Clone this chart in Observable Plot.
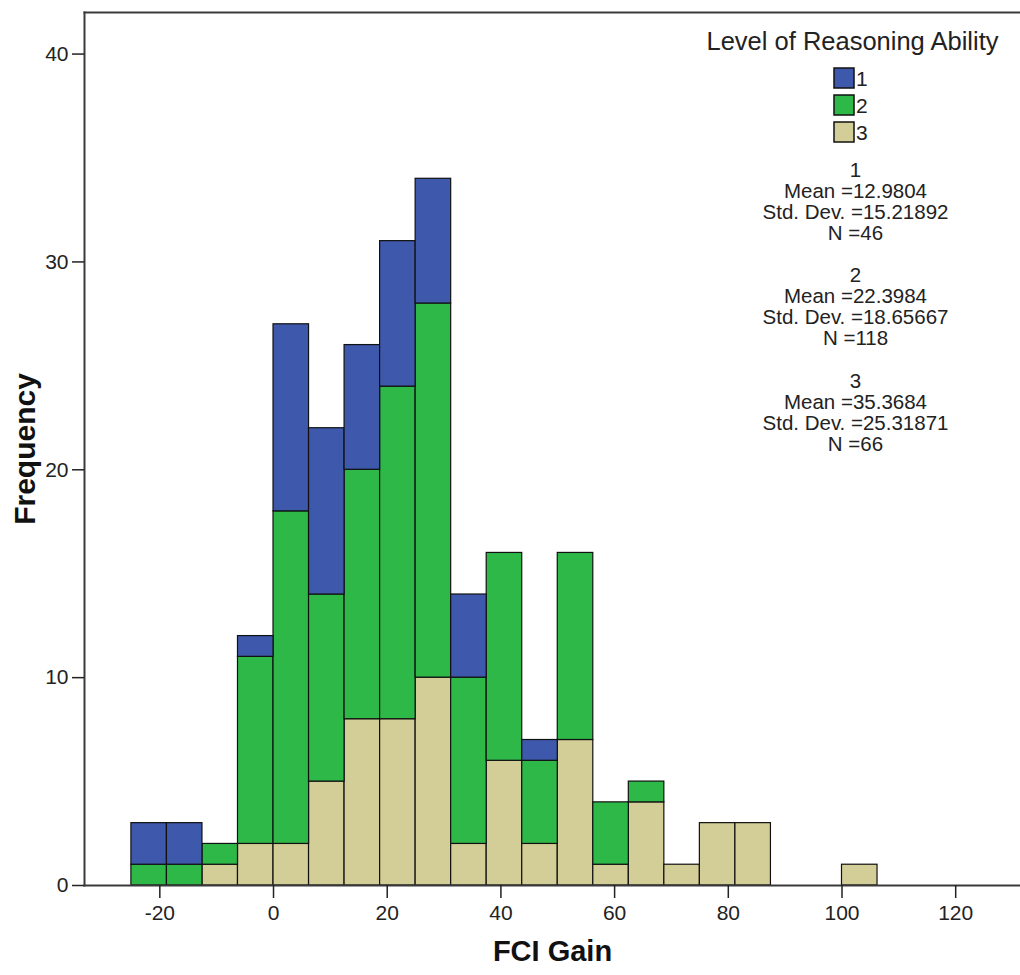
<!DOCTYPE html>
<html>
<head>
<meta charset="utf-8">
<script src="https://cdn.jsdelivr.net/npm/d3@7"></script>
<script src="https://cdn.jsdelivr.net/npm/@observablehq/plot@0.6"></script>
<style>
  html, body { margin: 0; padding: 0; background: #fff; overflow: hidden; }
  #chart svg { display: block; }
</style>
</head>
<body>
<div id="chart"></div>
<script>
// ---- data ----
const binStarts = [-25, -18.75, -12.5, -6.25, 0, 6.25, 12.5, 18.75, 25, 31.25, 37.5,
                   43.75, 50, 56.25, 62.5, 68.75, 75, 81.25, 87.5, 93.75, 100];
const binWidth = 6.25;
const levels = ["1", "2", "3"];
const levelColors = ["#3E58AC", "#2EB848", "#D3CE97"];
const countsLevel1 = [2, 2, 0, 1, 9, 8, 6, 7, 6, 4, 0, 1, 0, 0, 0, 0, 0, 0, 0, 0, 0];
const countsLevel2 = [1, 1, 1, 9, 16, 9, 12, 16, 18, 8, 10, 4, 9, 3, 1, 0, 0, 0, 0, 0, 0];
const countsLevel3 = [0, 0, 1, 2, 2, 5, 8, 8, 10, 2, 6, 2, 7, 1, 4, 1, 3, 3, 0, 0, 1];
const xTicks = [-20, 0, 20, 40, 60, 80, 100, 120];
const yTicks = [0, 10, 20, 30, 40];
const xLabel = "FCI Gain";
const yLabel = "Frequency";
const legendTitle = "Level of Reasoning Ability";
const statLines = [
  "1", "Mean =12.9804", "Std. Dev. =15.21892", "N =46", "",
  "2", "Mean =22.3984", "Std. Dev. =18.65667", "N =118", "",
  "3", "Mean =35.3684", "Std. Dev. =25.31871", "N =66"
];

// ---- build table (stack order: 3 bottom, 2, 1 top) ----
const countsByLevel = {"1": countsLevel1, "2": countsLevel2, "3": countsLevel3};
const rows = [];
for (const lv of ["3", "2", "1"]) {
  countsByLevel[lv].forEach((c, i) => {
    if (c > 0) rows.push({x1: binStarts[i], x2: binStarts[i] + binWidth, count: c, level: lv});
  });
}

const W = 1020, H = 975;
const mL = 84, mT = 12, mR = 0, mB = 90;
const font = "'Liberation Sans', Arial, sans-serif";

const plot = Plot.plot({
  width: W,
  height: H,
  marginLeft: mL,
  marginTop: mT,
  marginRight: mR,
  marginBottom: mB,
  style: {fontFamily: font, fontSize: "21px", color: "#222", background: "#fff", overflow: "visible"},
  x: {domain: [-33.25, 131.4], ticks: xTicks, label: null},
  y: {domain: [0, 42], ticks: yTicks, label: null},
  color: {domain: levels, range: levelColors},
  marks: [
    Plot.rectY(rows, {
      x1: "x1", x2: "x2", y: "count", fill: "level", z: "level",
      order: ["3", "2", "1"],
      stroke: "#111", strokeWidth: 1.2
    }),
    Plot.frame({anchor: "left", stroke: "#3a3a3a", strokeWidth: 2}),
    Plot.frame({anchor: "top", stroke: "#3a3a3a", strokeWidth: 2}),
    Plot.frame({anchor: "bottom", stroke: "#3a3a3a", strokeWidth: 2}),
    Plot.axisX({ticks: xTicks, tickSize: 13, tickPadding: 7, label: null, tickFormat: d => String(d), fontSize: 21, stroke: "#222", strokeWidth: 1.5}),
    Plot.axisY({ticks: yTicks, tickSize: 12, tickPadding: 4, label: null, tickFormat: d => String(d), fontSize: 21, stroke: "#222", strokeWidth: 1.5}),
    Plot.text([xLabel], {frameAnchor: "bottom", dy: 75, textAnchor: "middle", fontSize: 29, fontWeight: "bold", fill: "#111"}),
    Plot.text([yLabel], {frameAnchor: "left", dx: -59, rotate: -90, textAnchor: "middle", fontSize: 30, fontWeight: "bold", fill: "#111"}),
    Plot.text([legendTitle], {frameAnchor: "top-left", dx: 852 - mL, dy: 41 - mT, textAnchor: "middle", lineAnchor: "middle", fontSize: 25.5, fill: "#222"}),
    Plot.text([statLines.join("\n")], {frameAnchor: "top-left", dx: 855 - mL, dy: 161 - mT, textAnchor: "middle", lineAnchor: "top", lineHeight: 1.03, fontSize: 20.5, fill: "#222"})
  ]
});

document.getElementById("chart").appendChild(plot);

// ---- legend swatches ----
const svg = d3.select(plot);
const g = svg.append("g")
  .attr("font-family", font).attr("font-size", 21).attr("fill", "#222")
  .attr("text-anchor", "start");
levels.forEach((lv, i) => {
  const y0 = 68 + i * 27;
  g.append("rect")
    .attr("x", 834).attr("y", y0).attr("width", 20).attr("height", 20)
    .attr("fill", levelColors[i]).attr("stroke", "#111").attr("stroke-width", 1.5);
  g.append("text")
    .attr("x", 856).attr("y", y0 + 10).attr("dy", "0.36em")
    .text(lv);
});
</script>
</body>
</html>
